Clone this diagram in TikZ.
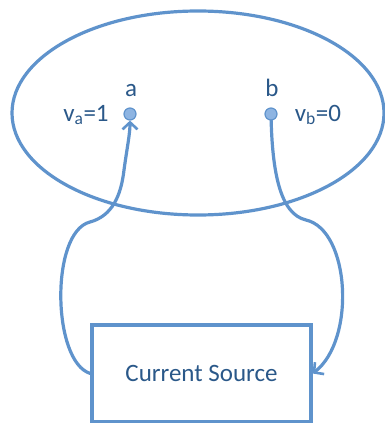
\documentclass[tikz,border=0pt]{standalone}
\usepackage{fontspec}
\setmainfont{Carlito}
\usepackage{xcolor}
\usetikzlibrary{arrows.meta,shapes.geometric,backgrounds}
\definecolor{wireblue}{HTML}{5F93CC}
\definecolor{dotblue}{HTML}{8DB4E2}
\definecolor{ink}{HTML}{2A5889}
\tikzset{
  wire/.style={line width=3.2pt,draw=wireblue,-{Straight Barb[length=7pt,width=15pt,line width=2.6pt]}},
  region/.style={ellipse,draw=wireblue,line width=3.2pt,inner sep=0pt},
  terminal/.style={circle,draw=wireblue,fill=dotblue,line width=1.2pt,minimum size=12pt,inner sep=0pt},
  srcbox/.style={rectangle,draw=wireblue,line width=3.2pt,inner sep=0pt,font=\fontsize{25}{30}\selectfont,text=ink},
  lbl/.style={font=\fontsize{25}{30}\selectfont,text=ink,inner sep=0pt}
}
\begin{document}
\begin{tikzpicture}[x=1pt,y=-1pt]
  \useasboundingbox (0,0) rectangle (384,423);
  \node[region,minimum width=372pt,minimum height=204pt] (blob) at (198,113) {};
  \node[srcbox,minimum width=219pt,minimum height=97pt] (src) at (201.5,373.5) {Current Source};
  \node[terminal] (a) at (130,114) {};
  \node[terminal] (b) at (271,114) {};
  \node[lbl,anchor=base] (alab) at (131,96) {a};
  \node[lbl,anchor=base] (blab) at (272,96) {b};
  \node[lbl,anchor=base] (va) at (86,121) {v\textsubscript{a}=1};
  \node[lbl,anchor=base] (vb) at (318,121) {v\textsubscript{b}=0};
  \begin{scope}[on background layer]
    \draw[wire] (src.west) .. controls (52,362) and (50,232) .. (90,222)
      .. controls (112,216) and (121,196) .. (124,170)
      .. controls (127,148) and (130,134) .. (a.south);
    \draw[wire] (b.center) .. controls (272,172) and (280,214) .. (306,220)
      .. controls (350,230) and (356,340) .. (src.east);
  \end{scope}
\end{tikzpicture}
\end{document}
